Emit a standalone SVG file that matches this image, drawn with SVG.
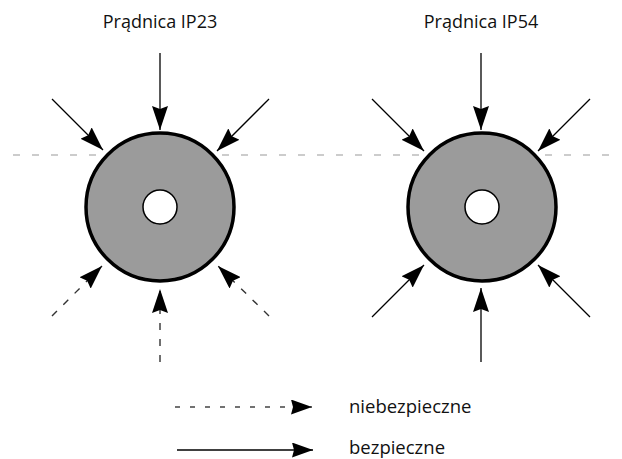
<svg xmlns="http://www.w3.org/2000/svg" width="622" height="459" viewBox="0 0 622 459">
<style>
text{font-family:"Open Sans","Noto Sans","Liberation Sans",sans-serif;fill:#111}
.title{font-size:18px;text-anchor:middle}
.lg{font-size:18.5px}
.outer{fill:#9b9b9b;stroke:#000;stroke-width:3.5}
.inner{fill:#fff;stroke:#000;stroke-width:1.5}
.solid{stroke:#000;stroke-width:1.3;fill:none;marker-end:url(#ah)}
.dash{stroke:#333;stroke-width:1.4;fill:none;stroke-dasharray:7 9;marker-end:url(#ah)}
.ldash{stroke:#444;stroke-width:1.3;fill:none;stroke-dasharray:5 10;marker-end:url(#ahs)}
.lsolid{stroke:#000;stroke-width:1.3;fill:none;marker-end:url(#ahs)}
.hline{stroke:#999;stroke-width:1.2;stroke-dasharray:7 12}
</style>
<defs>
<marker id="ah" viewBox="0 0 24 16" markerUnits="userSpaceOnUse" markerWidth="24" markerHeight="16" refX="24" refY="8" orient="auto">
<path d="M0,0 L24,8 L0,16 L3,8 z" fill="#000"/>
</marker>
<marker id="ahs" viewBox="0 0 21 15" markerUnits="userSpaceOnUse" markerWidth="21" markerHeight="15" refX="21" refY="7.5" orient="auto">
<path d="M0,0 L21,7.5 L0,15 L2,7.5 z" fill="#000"/>
</marker>
</defs>
<line id="level" class="hline" x1="13" y1="155" x2="614" y2="155"/>
<g id="gen-ip23">
<text class="title" x="160" y="28">Prądnica IP23</text>
<circle class="outer" cx="160" cy="207" r="74"/>
<circle class="inner" cx="160" cy="207" r="17"/>
</g>
<g id="gen-ip54">
<text class="title" x="481" y="28">Prądnica IP54</text>
<circle class="outer" cx="482" cy="207" r="74"/>
<circle class="inner" cx="482" cy="207" r="17"/>
</g>
<g id="connectors">
<line class="solid" x1="160" y1="53" x2="160" y2="130"/>
<line class="solid" x1="52" y1="99" x2="103" y2="150"/>
<line class="solid" x1="269" y1="99" x2="217" y2="151"/>
<line class="dash" x1="52" y1="316" x2="102" y2="266"/>
<line class="dash" x1="269" y1="316" x2="218" y2="266"/>
<line class="dash" x1="160" y1="362" x2="160" y2="289"/>
<line class="solid" x1="481" y1="53" x2="481" y2="130"/>
<line class="solid" x1="372" y1="99" x2="424" y2="151"/>
<line class="solid" x1="590" y1="99" x2="538" y2="151"/>
<line class="solid" x1="372" y1="317" x2="424" y2="265"/>
<line class="solid" x1="590" y1="317" x2="538" y2="265"/>
<line class="solid" x1="481" y1="362" x2="481" y2="288"/>
</g>
<g id="legend">
<line class="ldash" x1="175" y1="407" x2="312" y2="407"/>
<text class="lg" x="349" y="413">niebezpieczne</text>
<line class="lsolid" x1="177" y1="450" x2="313" y2="450"/>
<text class="lg" x="349" y="454">bezpieczne</text>
</g>
</svg>
